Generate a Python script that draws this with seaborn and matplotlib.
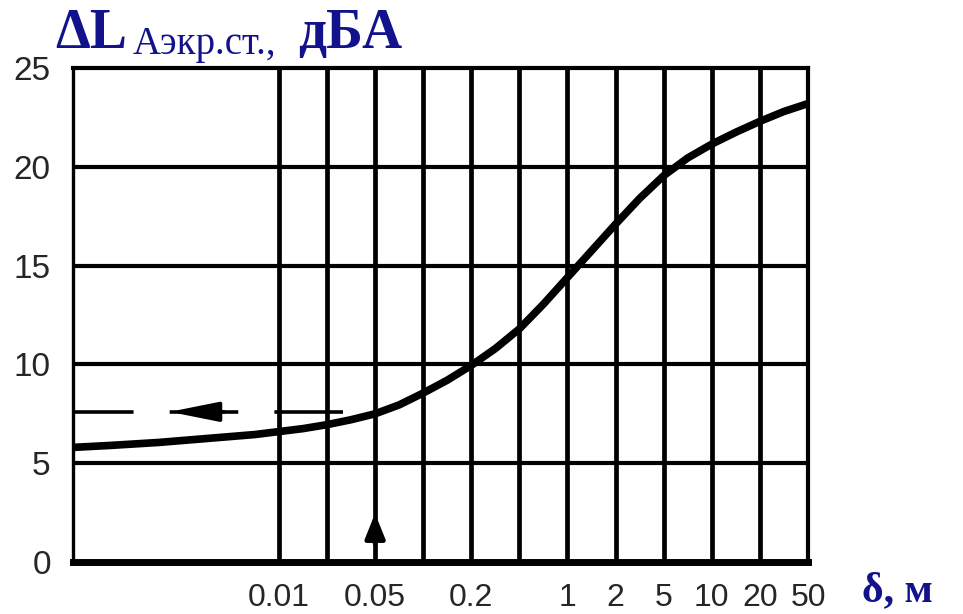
import numpy as np
import pandas as pd
import seaborn as sns
import matplotlib.pyplot as plt

# grid of the nomogram: delta values on the vertical lines (1-2-5 steps)
grid_delta = [0.01, 0.02, 0.05, 0.1, 0.2, 0.5, 1, 2, 5, 10, 20, 50]
tick_labels = ['0.01', '', '0.05', '', '0.2', '', '1', '2', '5', '10', '20', '50']
y_ticks = [0, 5, 10, 15, 20, 25]

# curve, x in grid steps (0 -> 0.01 m, 11 -> 50 m)
curve_step = [-4.28, -3.5, -2.5, -1.5, -0.5, 0, 0.5, 1, 1.5, 2, 2.5, 3, 3.5, 4, 4.5,
              5, 5.5, 6, 6.5, 7, 7.5, 8, 8.5, 9, 9.5, 10, 10.5, 11]
curve_dL = [5.8, 5.9, 6.05, 6.25, 6.45, 6.6, 6.75, 6.95, 7.2, 7.5, 7.95, 8.55, 9.2, 9.95, 10.8,
            11.8, 13.05, 14.4, 15.75, 17.1, 18.4, 19.55, 20.45, 21.15, 21.75, 22.3, 22.8, 23.2]

# worked example: delta = 0.05 m -> about 7.6 dBA
readout_step = 2
readout_level = 7.6
left_edge = -4.28

sns.set_style('white')
plt.rcParams['font.family'] = ['Liberation Sans', 'DejaVu Sans']
navy = '#12128c'

fig = plt.figure(figsize=(9.63, 6.14), dpi=100)
ax = fig.add_axes([73 / 963, 52 / 614, 735 / 963, 494 / 614])

# grid lines
for i in range(len(grid_delta) - 1):
    ax.axvline(i, color='black', lw=3.4, zorder=1)
for y in y_ticks[1:-1]:
    ax.axhline(y, color='black', lw=3.0, zorder=1)

df = pd.DataFrame({'step': curve_step, 'dL': curve_dL})
sns.lineplot(data=df, x='step', y='dL', color='black', lw=5.5, ax=ax,
             solid_capstyle='round', zorder=3)

# dashed read-out line with arrows
ax.plot([readout_step - 0.67, left_edge], [readout_level, readout_level],
        color='black', lw=2.6, ls=(0, (19, 10)), zorder=2)
ax.annotate('', xy=(left_edge + 1.95, readout_level), xytext=(left_edge + 3.2, readout_level),
            arrowprops=dict(arrowstyle='-|>,head_length=1.5,head_width=0.3',
                            mutation_scale=20, color='black', lw=2.6))
ax.annotate('', xy=(readout_step, 2.6), xytext=(readout_step, 0.8),
            arrowprops=dict(arrowstyle='-|>,head_length=1.0,head_width=0.4',
                            mutation_scale=15, color='black', lw=3.4))

ax.set_xlim(left_edge, len(grid_delta) - 1)
ax.set_ylim(0, 25)
ax.set_xticks(range(len(grid_delta)))
ax.set_xticklabels(tick_labels)
ax.set_yticks(y_ticks)
ax.set_xlabel('')
ax.set_ylabel('')
ax.tick_params(axis='x', length=0, labelsize=23, pad=15)
ax.tick_params(axis='y', length=0, labelsize=24, pad=16)

for side, w in [('left', 2.4), ('top', 3.0), ('right', 3.0), ('bottom', 5.0)]:
    ax.spines[side].set_visible(True)
    ax.spines[side].set_color('black')
    ax.spines[side].set_linewidth(w)

# axis titles
serif = ['Liberation Serif', 'DejaVu Serif']
fig.text(55 / 963, 1 - 48 / 614, 'ΔL', fontsize=40, family=serif, color=navy,
         weight='bold', ha='left', va='baseline')
fig.text(133 / 963, 1 - 54 / 614, 'Aэкр.ст.,', fontsize=28, family=serif, color=navy,
         ha='left', va='baseline')
fig.text(298 / 963, 1 - 48 / 614, 'дБА', fontsize=40, family=serif, color=navy,
         weight='bold', ha='left', va='baseline')
fig.text(862 / 963, 1 - 601 / 614, 'δ, м', fontsize=30, family=serif, color=navy,
         weight='bold', ha='left', va='baseline')

fig.savefig('out.png', dpi=100)
